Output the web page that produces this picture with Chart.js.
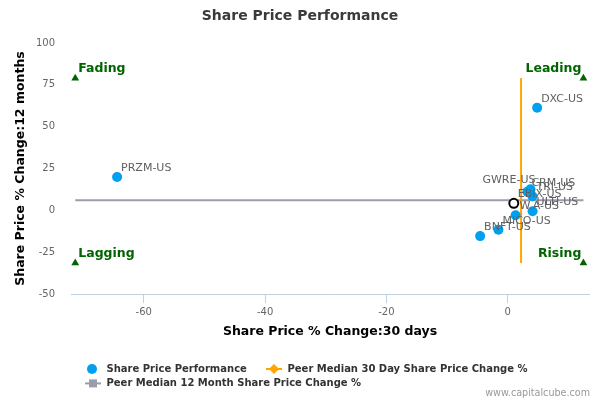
<!DOCTYPE html>
<html><head><meta charset="utf-8">
<script src="https://cdn.jsdelivr.net/npm/chart.js@4"></script>
<style>html,body{margin:0;padding:0;background:#fff;}canvas{display:block;}</style>
</head><body>
<canvas id="c" width="600" height="400"></canvas>
<script>
// ---- data ----
const tickers   = ['DXC-US','PRZM-US','GWRE-US','CRM-US','TRI-US','ULTI-US','W.A-US','MICO-US','BNFT-US'];
const change30d = [4.85, -64.4, 3.75, 3.25, 4.07, 4.1, 1.3, -1.53, -4.55];
const change12m = [61.3, 19.9, 12.6, 11.1, 8.4, -0.5, -2.9, -11.6, -15.4];
const subjectTicker = ['EBIX-US'];
const subject30d = [1.0];
const subject12m = [4.2];
const peerMedian30d = 2.2;
const peerMedian12m = 6.0;
const quadrantNames = ['Fading','Leading','Lagging','Rising'];
const quadrant30d = [-71.3, 12.48, -71.3, 12.48];
const quadrant12m = [79, 79, -31.5, -31.5];
const xTicks = [-60, -40, -20, 0];
const yTicks = [-50, -25, 0, 25, 50, 75, 100];
const seriesNames = ['Share Price Performance','Peer Median 30 Day Share Price Change %','Peer Median 12 Month Share Price Change %'];
const titleText = 'Share Price Performance';
const xTitle = 'Share Price % Change:30 days';
const yTitle = 'Share Price % Change:12 months';
const creditText = 'www.capitalcube.com';

// ---- style ----
const FONT = '"DejaVu Sans", Verdana, sans-serif';
const BLUE = '#00A0F0', ORANGE = '#FFA500', GREY = '#9B9EA9', GREEN = '#006400';
const rightAlignedLabels = ['GWRE-US'];

const qMin30 = Math.min(...quadrant30d), qMax30 = Math.max(...quadrant30d);
const qMin12 = Math.min(...quadrant12m), qMax12 = Math.max(...quadrant12m);

const overlay = {
  id: 'overlay',
  afterDatasetsDraw(chart) {
    const ctx = chart.ctx;
    ctx.save();
    ctx.textBaseline = 'middle';
    // point labels
    ctx.font = '11px ' + FONT;
    ctx.fillStyle = '#606060';
    const drawLabels = (idx, names) => {
      chart.getDatasetMeta(idx).data.forEach((el, i) => {
        const right = rightAlignedLabels.includes(names[i]);
        ctx.textAlign = right ? 'right' : 'left';
        ctx.fillText(names[i], right ? el.x + 5 : el.x + 4, el.y - 9);
      });
    };
    drawLabels(0, tickers);
    drawLabels(3, subjectTicker);
    // quadrant labels
    ctx.font = 'bold 12.5px ' + FONT;
    ctx.fillStyle = GREEN;
    chart.getDatasetMeta(4).data.forEach((el, i) => {
      const left = quadrant30d[i] < 0;
      ctx.textAlign = left ? 'left' : 'right';
      ctx.fillText(quadrantNames[i], left ? el.x + 3 : el.x - 2, el.y - 9.3);
    });
    ctx.restore();
  },
  afterDraw(chart) {
    const ctx = chart.ctx;
    ctx.save();
    ctx.textBaseline = 'middle';
    // title
    ctx.font = 'bold 14px ' + FONT;
    ctx.fillStyle = '#3a3a3a';
    ctx.textAlign = 'center';
    ctx.fillText(titleText, 300, 16);
    // legend
    ctx.font = 'bold 10px ' + FONT;
    ctx.textAlign = 'left';
    const r1 = 369, r2 = 383.4;
    ctx.fillStyle = BLUE;
    ctx.beginPath(); ctx.arc(92, r1, 5, 0, Math.PI * 2); ctx.fill();
    ctx.fillStyle = '#333';
    ctx.fillText(seriesNames[0], 106.5, r1);
    ctx.strokeStyle = ORANGE; ctx.lineWidth = 2;
    ctx.beginPath(); ctx.moveTo(266, r1); ctx.lineTo(282, r1); ctx.stroke();
    ctx.fillStyle = ORANGE;
    ctx.beginPath(); ctx.moveTo(274, r1 - 5); ctx.lineTo(279, r1); ctx.lineTo(274, r1 + 5); ctx.lineTo(269, r1); ctx.closePath(); ctx.fill();
    ctx.fillStyle = '#333';
    ctx.fillText(seriesNames[1], 287.5, r1);
    ctx.strokeStyle = GREY;
    ctx.beginPath(); ctx.moveTo(85, r2); ctx.lineTo(101, r2); ctx.stroke();
    ctx.fillStyle = GREY;
    ctx.fillRect(89, r2 - 4, 8, 8);
    ctx.fillStyle = '#333';
    ctx.fillText(seriesNames[2], 106.5, r2);
    // credits
    ctx.font = '9.6px ' + FONT;
    ctx.fillStyle = '#999';
    ctx.textAlign = 'right';
    ctx.fillText(creditText, 590, 393);
    ctx.restore();
  }
};

new Chart(document.getElementById('c'), {
  type: 'scatter',
  data: {
    datasets: [
      { label: seriesNames[0], data: change30d.map((x, i) => ({x, y: change12m[i]})),
        pointRadius: 5, pointHoverRadius: 5, backgroundColor: BLUE, borderWidth: 0, order: 1 },
      { label: seriesNames[1], data: [{x: peerMedian30d, y: qMin12}, {x: peerMedian30d, y: qMax12}],
        showLine: true, borderColor: ORANGE, borderWidth: 2, pointRadius: 0, order: 3 },
      { label: seriesNames[2], data: [{x: qMin30, y: peerMedian12m}, {x: qMax30, y: peerMedian12m}],
        showLine: true, borderColor: GREY, borderWidth: 2, pointRadius: 0, order: 4 },
      { label: subjectTicker[0], data: subject30d.map((x, i) => ({x, y: subject12m[i]})),
        pointRadius: 4.5, backgroundColor: '#fff', borderColor: '#000', borderWidth: 2, order: 0 },
      { label: 'Quadrants', data: quadrant30d.map((x, i) => ({x, y: quadrant12m[i]})),
        pointStyle: 'triangle', pointRadius: 4.5, backgroundColor: GREEN, borderColor: GREEN, borderWidth: 0, order: 2 }
    ]
  },
  options: {
    responsive: false,
    animation: false,
    events: [],
    layout: { padding: { top: 43, right: 11, bottom: 60, left: 0 } },
    plugins: { legend: { display: false }, tooltip: { enabled: false }, title: { display: false } },
    scales: {
      x: {
        type: 'linear', position: 'bottom', min: -72, max: 13.4,
        afterBuildTicks: s => { s.ticks = xTicks.map(v => ({value: v})); },
        afterFit: s => { s.height = 46; },
        grid: { display: true, drawOnChartArea: false, drawTicks: true, tickLength: 9, color: '#C0D0E0' },
        border: { display: true, color: '#C0D0E0', width: 1 },
        ticks: { color: '#666', font: { family: FONT, size: 10 }, padding: 3, maxRotation: 0 },
        title: { display: true, text: xTitle, color: '#000', font: { family: FONT, size: 12.5, weight: 'bold' }, padding: { top: 0, bottom: 1 } }
      },
      y: {
        type: 'linear', min: -50, max: 100,
        afterBuildTicks: s => { s.ticks = yTicks.map(v => ({value: v})); },
        afterFit: s => { s.width = 71; },
        grid: { display: false, drawTicks: false },
        border: { display: false },
        ticks: { color: '#666', font: { family: FONT, size: 10 }, padding: 16 },
        title: { display: true, text: yTitle, color: '#000', font: { family: FONT, size: 12.5, weight: 'bold' }, padding: { top: 13.5, bottom: 0 } }
      }
    }
  },
  plugins: [overlay]
});
</script>
</body></html>
